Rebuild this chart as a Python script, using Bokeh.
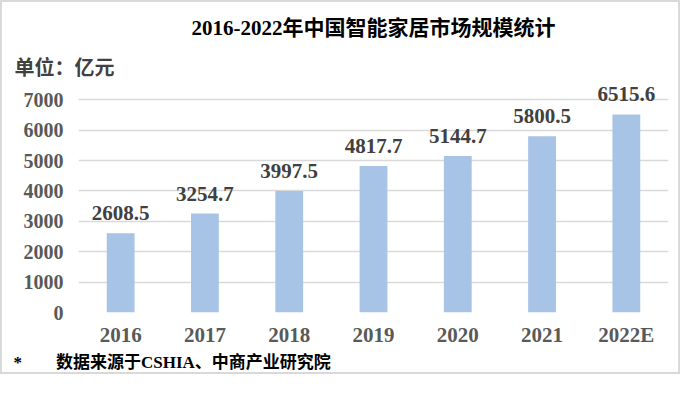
from bokeh.plotting import figure
from bokeh.models import Range1d, FactorRange, FixedTicker, LabelSet, ColumnDataSource, Title
from bokeh.embed import file_html
from bokeh.resources import INLINE
from bokeh.core.properties import value

# ---- data ----
years = ["2016", "2017", "2018", "2019", "2020", "2021", "2022E"]
market_size = [2608.5, 3254.7, 3997.5, 4817.7, 5144.7, 5800.5, 6515.6]
y_ticks = [0, 1000, 2000, 3000, 4000, 5000, 6000, 7000]
title_text = "2016-2022年中国智能家居市场规模统计"
unit_text = "单位：亿元"
note_text = "*\u3000\u3000数据来源于CSHIA、中商产业研究院"

FONT = "'Liberation Serif', 'Noto Sans CJK SC', serif"
BAR = "#A7C4E6"
GRID = "#D9D9D9"

source = ColumnDataSource(dict(
    x=years,
    top=market_size,
    label=[f"{v:.1f}" for v in market_size],
))

p = figure(
    x_range=FactorRange(*years),
    y_range=Range1d(0, 7500),
    width=680, height=374,
    output_backend="svg", toolbar_location=None,
    min_border_left=76, min_border_right=14,
    min_border_top=82, min_border_bottom=64,
    styles={"border": "2px solid #D9D9D9"},
)

p.vbar(x="x", top="top", width=0.33, source=source, color=BAR, line_color=None)

labels = LabelSet(x="x", y="top", text="label", source=source,
                  text_align="center", text_baseline="alphabetic", y_offset=13,
                  text_font=value(FONT), text_font_size="21px",
                  text_font_style="bold", text_color="#404040")
p.add_layout(labels)

# axes
p.yaxis.ticker = FixedTicker(ticks=y_ticks)
p.ygrid.ticker = FixedTicker(ticks=y_ticks)
p.ygrid.grid_line_color = GRID
p.ygrid.grid_line_width = 1.6
p.xgrid.grid_line_color = None
for ax in (p.xaxis, p.yaxis):
    ax.axis_line_color = None
    ax.major_tick_line_color = None
    ax.minor_tick_line_color = None
    ax.major_tick_out = 0
    ax.major_tick_in = 0
    ax.major_label_text_font = FONT
    ax.major_label_text_font_style = "bold"
    ax.major_label_text_color = "#595959"
p.yaxis.major_label_text_font_size = "20px"
p.yaxis.major_label_standoff = 15
p.xaxis.major_label_text_font_size = "21px"
p.xaxis.major_label_standoff = 10
p.outline_line_color = None

# unit label (nearest the frame), then main title above it
p.add_layout(Title(text=unit_text, align="left", offset=-64, standoff=12,
                   text_font=FONT, text_font_size="20px",
                   text_font_style="bold", text_color="#404040"), "above")
p.add_layout(Title(text=title_text, align="center", offset=0, standoff=18,
                   text_font=FONT, text_font_size="21px",
                   text_font_style="bold", text_color="#000000"), "above")
# footnote
p.add_layout(Title(text=note_text, align="left", offset=-65, standoff=2,
                   text_font=FONT, text_font_size="17px",
                   text_font_style="bold", text_color="#000000"), "below")

open("out.html", "w").write(file_html(p, INLINE))
